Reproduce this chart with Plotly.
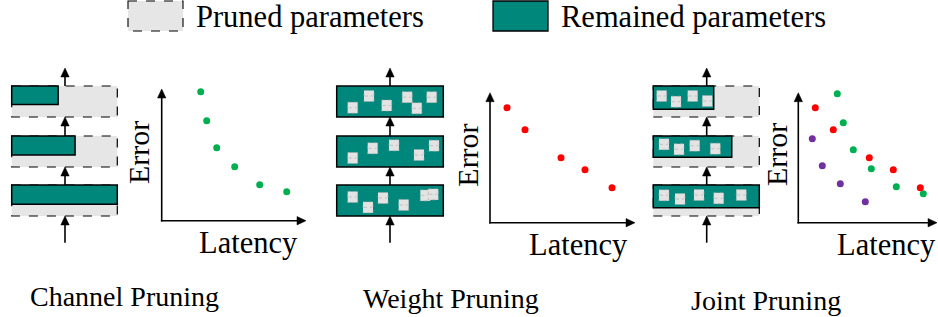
import plotly.graph_objects as go

W, H = 938, 317
FONT = "Liberation Serif"
TEAL = "#00877c"
GRAY = "#e6e6e6"
GREEN = "#00b050"
RED = "#ff0000"
PURPLE = "#7030a0"

# ---------------- data ----------------
legend_labels = ["Pruned parameters", "Remained parameters"]
panel_titles = ["Channel Pruning", "Weight Pruning", "Joint Pruning"]
x_label = "Latency"
y_label = "Error"

# fraction of each layer that remains (top, middle, bottom layer)
channel_remain = [0.44, 0.60, 1.00]
weight_remain = [1.00, 1.00, 1.00]
joint_remain = [0.57, 0.74, 1.00]

# error vs latency points (arbitrary units)
green_latency = [39, 45, 55, 73, 98, 125]
green_error = [129, 100, 73, 54, 36, 29]
red_latency = [17, 35, 71, 95, 122]
red_error = [115, 93, 65, 53, 35]
purple_latency = [14, 24, 42, 67]
purple_error = [84, 57, 39, 21]

# ---------------- layout constants ----------------
LAYER_TOPS = [86, 136, 185]
LAYER_H = 31
panels = [
    dict(x0=11.7, x1=117.3, arrow_x=65, bar_h=[18.5, 19, 19.3], dashed=True,
         remain=channel_remain, ax_o=(161.7, 220.7), ax_tip=(306, 89),
         err=(138, 153), lat=(248, 243), title=(124.5, 296)),
    dict(x0=336.7, x1=443.3, arrow_x=390, bar_h=[31, 31, 31], dashed=False,
         remain=weight_remain, ax_o=(490, 222.7), ax_tip=(635, 92.7),
         err=(466.7, 155), lat=(578, 245), title=(450.5, 298)),
    dict(x0=653.3, x1=759.3, arrow_x=706.7, bar_h=[23.3, 21.3, 22.7], dashed=True,
         remain=joint_remain, ax_o=(798.3, 222.7), ax_tip=(937, 92.7),
         err=(776, 155), lat=(886.5, 245), title=(766, 300)),
]
weight_squares = [
    [(16, 21.7), (32.3, 10), (50, 19.5), (70.5, 11.2), (80.1, 22.3), (95, 11.2)],
    [(16, 22), (36, 12.3), (57.3, 9.3), (82.3, 19), (97.3, 9.7)],
    [(16, 12), (31.3, 22.4), (46.3, 13), (67, 20), (88.6, 10.4), (96.6, 9.4)],
]
joint_squares = [
    [(8.4, 10), (22.7, 15.7), (39.4, 10), (54, 15)],
    [(10.7, 8.3), (25.7, 13.3), (41.4, 9.7), (62, 12.7)],
    [(10.7, 10.3), (26.7, 14), (45.7, 10), (65.4, 13.3), (88, 10)],
]
squares_by_panel = [None, weight_squares, joint_squares]

shapes = []
annotations = []


def rect(x0, y0, x1, y1, fill, color="black", width=1.3, dash="solid"):
    shapes.append(dict(type="rect", xref="x", yref="y", x0=x0, y0=y0, x1=x1, y1=y1,
                       fillcolor=fill, line=dict(color=color, width=width, dash=dash),
                       layer="above"))


def arrow(x0, y0, x1, y1, head=9, half=4.2, width=1.6):
    # line from (x0,y0) to tip (x1,y1) with a filled triangle head
    dx, dy = x1 - x0, y1 - y0
    L = (dx * dx + dy * dy) ** 0.5
    ux, uy = dx / L, dy / L
    bx, by = x1 - ux * head, y1 - uy * head
    shapes.append(dict(type="line", xref="x", yref="y", x0=x0, y0=y0, x1=bx + ux, y1=by + uy,
                       line=dict(color="black", width=width), layer="above"))
    px, py = -uy, ux
    path = (f"M {x1},{y1} L {bx + px * half},{by + py * half} "
            f"L {bx - px * half},{by - py * half} Z")
    shapes.append(dict(type="path", xref="x", yref="y", path=path, fillcolor="black",
                       line=dict(color="black", width=0.5), layer="above"))


def small_square(cx, cy, w=10, h=11):
    x0, x1, y0, y1 = cx - w / 2, cx + w / 2, cy - h / 2, cy + h / 2
    rect(x0, y0, x1, y1, "#e3e3e3", color="#a9a9a9", width=0.6, dash="dot")
    shapes.append(dict(type="line", xref="x", yref="y", x0=x0 + 1, y0=cy, x1=x1 - 1, y1=cy,
                       line=dict(color="#a9a9a9", width=0.6, dash="dot"), layer="above"))


# legend
rect(128, 1, 183, 31, GRAY, dash="dash", width=1.1)
rect(493, 1, 548, 31, TEAL, width=1.3)
for lbl, lx in zip(legend_labels, [194, 559]):
    annotations.append(dict(x=lx, y=17, xref="x", yref="y", text=lbl, showarrow=False,
                            xanchor="left", yanchor="middle",
                            font=dict(family=FONT, size=30.5, color="black")))

fig = go.Figure()

for i, p in enumerate(panels):
    x0, x1 = p["x0"], p["x1"]
    # layer boxes
    for k, top in enumerate(LAYER_TOPS):
        if p["dashed"]:
            rect(x0, top, x1, top + LAYER_H, GRAY, dash="dash", width=1.2)
        bw = (x1 - x0) * p["remain"][k]
        rect(x0, top, x0 + bw, top + p["bar_h"][k], TEAL, width=1.5)
        sq = squares_by_panel[i]
        if sq:
            for (sx, sy) in sq[k]:
                small_square(x0 + sx, top + sy)
    # vertical flow arrows
    ax_ = p["arrow_x"]
    arrow(ax_, 242.7, ax_, LAYER_TOPS[2] + LAYER_H)
    arrow(ax_, LAYER_TOPS[2], ax_, LAYER_TOPS[1] + LAYER_H)
    arrow(ax_, LAYER_TOPS[1], ax_, LAYER_TOPS[0] + LAYER_H)
    arrow(ax_, LAYER_TOPS[0], ax_, 68)
    # scatter axes arrows
    ox, oy = p["ax_o"]
    tx, ty = p["ax_tip"]
    arrow(ox, oy + 0.8, ox, ty)
    arrow(ox - 0.8, oy, tx, oy)
    # labels
    annotations.append(dict(x=p["err"][0], y=p["err"][1], xref="x", yref="y", text=y_label,
                            textangle=-90, showarrow=False, xanchor="center", yanchor="middle",
                            font=dict(family=FONT, size=30, color="black")))
    annotations.append(dict(x=p["lat"][0], y=p["lat"][1], xref="x", yref="y", text=x_label,
                            showarrow=False, xanchor="center", yanchor="middle",
                            font=dict(family=FONT, size=30.5, color="black")))
    annotations.append(dict(x=p["title"][0], y=p["title"][1], xref="x", yref="y",
                            text=panel_titles[i], showarrow=False, xanchor="center",
                            yanchor="middle", font=dict(family=FONT, size=28, color="black")))

# overlay trace so the pixel axis exists
fig.add_trace(go.Scatter(x=[0, W], y=[0, H], mode="markers", marker=dict(opacity=0),
                         hoverinfo="skip", showlegend=False, xaxis="x", yaxis="y"))

series_by_panel = [
    [(green_latency, green_error, GREEN)],
    [(red_latency, red_error, RED)],
    [(green_latency, green_error, GREEN), (red_latency, red_error, RED),
     (purple_latency, purple_error, PURPLE)],
]

layout_axes = {}
for i, p in enumerate(panels):
    n = i + 2
    ox, oy = p["ax_o"]
    tx, ty = p["ax_tip"]
    lx, ly = tx - ox, oy - ty
    layout_axes[f"xaxis{n}"] = dict(domain=[ox / W, tx / W], range=[0, lx], visible=False,
                                    anchor=f"y{n}", fixedrange=True)
    layout_axes[f"yaxis{n}"] = dict(domain=[1 - oy / H, 1 - ty / H], range=[0, ly],
                                    visible=False, anchor=f"x{n}", fixedrange=True)
    for (xs, ys, col) in series_by_panel[i]:
        fig.add_trace(go.Scatter(x=xs, y=ys, mode="markers", xaxis=f"x{n}", yaxis=f"y{n}",
                                 marker=dict(color=col, size=7, line=dict(width=0)),
                                 showlegend=False, cliponaxis=False))

fig.update_layout(
    width=W, height=H, margin=dict(l=0, r=0, t=0, b=0),
    paper_bgcolor="white", plot_bgcolor="rgba(0,0,0,0)",
    xaxis=dict(domain=[0, 1], range=[0, W], visible=False, fixedrange=True),
    yaxis=dict(domain=[0, 1], range=[H, 0], visible=False, fixedrange=True),
    shapes=shapes, annotations=annotations, showlegend=False,
    **layout_axes,
)

fig.write_html("out.html", config={"displayModeBar": False},
               post_script="document.body.style.margin='0';document.body.style.overflow='hidden';")
